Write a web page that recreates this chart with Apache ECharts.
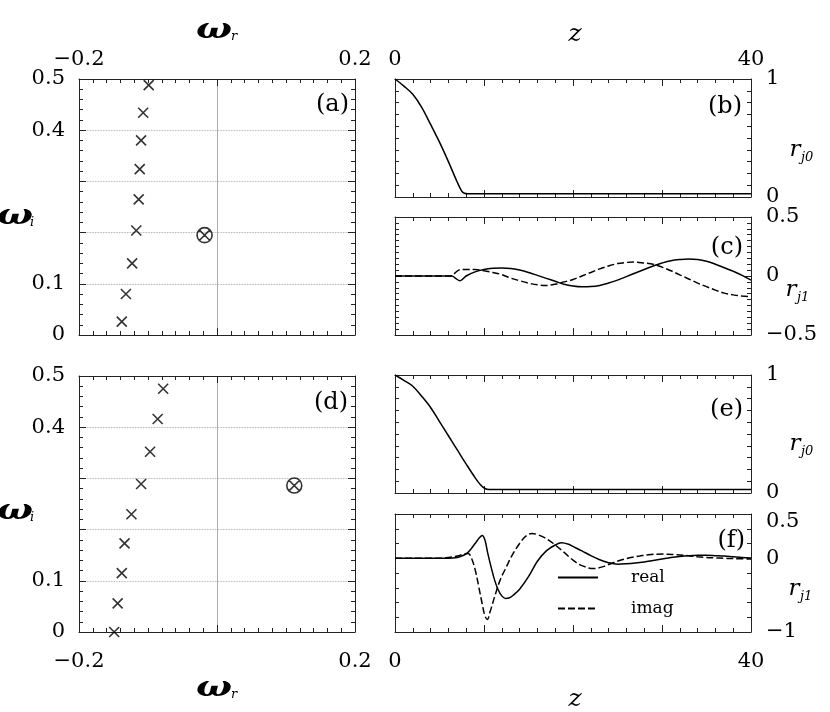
<!DOCTYPE html>
<html><head><meta charset="utf-8">
<script src="https://cdn.jsdelivr.net/npm/echarts@6/dist/echarts.min.js"></script>
<style>html,body{margin:0;padding:0;background:#fff}#c{width:830px;height:712px}</style>
</head><body><div id="c"></div>
<script>
// ---- panel (a): eigenvalues ----
const aRe = [-0.099, -0.107, -0.110, -0.112, -0.1135, -0.117, -0.123, -0.132, -0.138];
const aIm = [0.488, 0.434, 0.380, 0.324, 0.265, 0.204, 0.140, 0.080, 0.026];
const aMarkRe = [-0.018];
const aMarkIm = [0.195];
// ---- panel (d): eigenvalues ----
const dRe = [-0.078, -0.086, -0.097, -0.110, -0.124, -0.134, -0.138, -0.144, -0.149];
const dIm = [0.475, 0.416, 0.352, 0.289, 0.230, 0.173, 0.115, 0.056, 0.0];
const dMarkRe = [0.112];
const dMarkIm = [0.286];
// ---- panel (b): r_j0 ----
const zB = [0, 1, 2, 3, 4, 5, 6, 7, 7.5, 7.8, 8.2, 12, 20, 30, 40];
const rB = [1.0, 0.94, 0.87, 0.76, 0.615, 0.465, 0.30, 0.125, 0.05, 0.032, 0.028, 0.028, 0.028, 0.028, 0.028];
// ---- panel (e): r_j0 ----
const zE = [0, 1, 2, 3, 4, 5, 6, 7, 8, 9, 9.6, 10.1, 10.6, 15, 20, 30, 40];
const rE = [1.0, 0.955, 0.905, 0.82, 0.725, 0.605, 0.485, 0.365, 0.245, 0.13, 0.07, 0.038, 0.03, 0.03, 0.03, 0.03, 0.03];
// ---- panel (c): r_j1 real / imag ----
const zCre = [0, 3, 6.4, 6.8, 7.3, 7.7, 8, 9, 10, 11, 12, 13, 14, 15, 16, 17, 18, 19, 20, 21, 22, 23, 24, 25, 26, 27, 28, 29, 30, 31, 32, 33, 34, 35, 36, 37, 38, 39, 40];
const cRe = [0, 0, 0, -0.02, -0.04, -0.02, 0.0, 0.035, 0.055, 0.065, 0.068, 0.064, 0.05, 0.03, 0.005, -0.02, -0.045, -0.07, -0.085, -0.092, -0.09, -0.08, -0.06, -0.035, -0.005, 0.025, 0.055, 0.085, 0.11, 0.13, 0.14, 0.145, 0.14, 0.125, 0.1, 0.07, 0.04, 0.005, -0.035];
const zCim = [0, 3, 6.4, 6.8, 7.3, 8, 9, 10, 11, 12, 13, 14, 15, 16, 17, 18, 19, 20, 21, 22, 23, 24, 25, 26, 27, 28, 29, 30, 31, 32, 33, 34, 35, 36, 37, 38, 39, 40];
const cIm = [0, 0, 0, 0.03, 0.053, 0.055, 0.055, 0.045, 0.03, 0.012, -0.018, -0.04, -0.06, -0.075, -0.08, -0.07, -0.05, -0.03, 0.0, 0.03, 0.06, 0.085, 0.105, 0.115, 0.118, 0.11, 0.1, 0.075, 0.045, 0.01, -0.025, -0.06, -0.09, -0.12, -0.145, -0.16, -0.17, -0.175];
// ---- panel (f): r_j1 real / imag ----
const zFre = [0, 6, 7, 7.5, 8, 8.5, 9, 9.5, 9.8, 10.1, 10.4, 10.8, 11.2, 11.6, 12, 12.4, 12.8, 13.3, 14, 15, 16, 17, 18, 18.7, 19.5, 20, 21, 22, 23, 24, 25, 26, 27, 28, 29, 30, 31, 32, 33, 34, 35, 36, 37, 38, 39, 40];
const fRe = [0, 0, 0.01, 0.03, 0.06, 0.12, 0.2, 0.28, 0.31, 0.25, 0.08, -0.12, -0.3, -0.43, -0.51, -0.545, -0.54, -0.5, -0.42, -0.25, -0.04, 0.1, 0.18, 0.21, 0.19, 0.16, 0.1, 0.035, -0.02, -0.06, -0.08, -0.075, -0.065, -0.05, -0.03, -0.01, 0.01, 0.025, 0.035, 0.04, 0.04, 0.035, 0.03, 0.02, 0.01, 0.005];
const zFim = [0, 5, 6, 7, 7.8, 8.24, 8.6, 9.0, 9.4, 9.8, 10.1, 10.37, 10.7, 11.2, 11.8, 12.5, 13.2, 14, 14.7, 15.4, 16, 16.8, 17.8, 19, 20, 21, 22.3, 23.5, 24.5, 25.5, 26.5, 27.5, 28.5, 30.1, 31.5, 33, 34, 35, 36, 37, 38, 40];
const fIm = [0, 0, 0.01, 0.03, 0.06, 0.065, 0.0, -0.15, -0.38, -0.62, -0.78, -0.83, -0.72, -0.52, -0.3, -0.12, 0.05, 0.2, 0.3, 0.337, 0.32, 0.28, 0.2, 0.08, -0.026, -0.1, -0.14, -0.11, -0.06, -0.02, 0.01, 0.03, 0.048, 0.056, 0.05, 0.035, 0.02, 0.01, 0.005, 0.0, -0.005, -0.01];
// ---- tick labels ----
const omegaRLabels = [-0.2, 0.2];
const omegaILabels = [0, 0.1, 0.4, 0.5];
const zLabels = [0, 40];
const rj0Labels = [0, 1];
const rj1cLabels = [-0.5, 0, 0.5];
const rj1fLabels = [-1, 0, 0.5];
const legendNames = ['real', 'imag'];

const zip = (xs, ys) => xs.map((x, i) => [x, ys[i]]);
const FONT = 'DejaVu Serif';
const FRAME = '#222';
const fmt = v => { const r = parseFloat((+v).toFixed(6)); return r < 0 ? '\u2212' + Math.abs(r) : String(r); };
const inList = (v, list) => list.some(t => Math.abs(t - v) < 1e-9);

const grids = [
  {left: 79, top: 79, width: 276, height: 256},   // a
  {left: 395, top: 79, width: 356, height: 118},  // b
  {left: 395, top: 217, width: 356, height: 118}, // c
  {left: 79, top: 376, width: 276, height: 256},  // d
  {left: 395, top: 375, width: 356, height: 118}, // e
  {left: 395, top: 514, width: 356, height: 118}  // f
];

function axisBase(extra) {
  return Object.assign({
    type: 'value',
    axisLine: {show: true, onZero: false, lineStyle: {color: FRAME, width: 1}},
    axisTick: {show: true, inside: true, length: 7, lineStyle: {color: FRAME, width: 1}},
    minorTick: {show: true, length: 4, lineStyle: {color: FRAME, width: 1}},
    splitLine: {show: false},
    axisLabel: {show: false}
  }, extra);
}
function labelCfg(list, margin) {
  return {show: true, margin: margin, color: '#000', fontFamily: FONT, fontSize: 21,
    formatter: v => inList(v, list) ? fmt(v) : ''};
}

const xAxis = [], yAxis = [];
// left panels: grid 0 (a), 3 (d)
[[0, 'top'], [3, 'bottom']].forEach(([g, labPos]) => {
  ['bottom', 'top'].forEach(pos => {
    const ax = axisBase({gridIndex: g, position: pos, min: -0.2, max: 0.2, interval: 0.2,
      minorTick: {show: true, splitNumber: 10, length: 4, lineStyle: {color: FRAME, width: 1}}});
    if (pos === labPos) ax.axisLabel = labelCfg(omegaRLabels, pos === 'top' ? 9 : 19);
    if (pos === 'bottom') ax.splitLine = {show: true, lineStyle: {color: '#999', width: 0.8, type: 'solid'}};
    xAxis[g * 2 + (pos === 'bottom' ? 0 : 1)] = ax;
  });
  ['left', 'right'].forEach(pos => {
    const ax = axisBase({gridIndex: g, position: pos, min: 0, max: 0.5, interval: 0.1,
      minorTick: {show: true, splitNumber: 5, length: 4, lineStyle: {color: FRAME, width: 1}}});
    if (pos === 'left') {
      ax.axisLabel = labelCfg(omegaILabels, 14);
      ax.splitLine = {show: true, lineStyle: {color: '#999', width: 0.8, type: 'dotted'}};
    }
    yAxis[g * 2 + (pos === 'left' ? 0 : 1)] = ax;
  });
});
// right panels
const rightCfg = {
  1: {min: 0, max: 1, interval: 1, split: 10, labels: rj0Labels, xlab: 'top'},
  2: {min: -0.5, max: 0.5, interval: 0.5, split: 10, labels: rj1cLabels},
  4: {min: 0, max: 1, interval: 1, split: 10, labels: rj0Labels},
  5: {min: -1, max: 0.6, interval: 0.2, split: 0, labels: rj1fLabels, xlab: 'bottom'}
};
Object.keys(rightCfg).forEach(k => {
  const g = +k, c = rightCfg[k];
  ['bottom', 'top'].forEach(pos => {
    const ax = axisBase({gridIndex: g, position: pos, min: 0, max: 40, interval: 10,
      minorTick: {show: true, splitNumber: 5, length: 4, lineStyle: {color: FRAME, width: 1}}});
    if (c.xlab === pos) ax.axisLabel = labelCfg(zLabels, pos === 'top' ? 9 : 19);
    xAxis[g * 2 + (pos === 'bottom' ? 0 : 1)] = ax;
  });
  ['left', 'right'].forEach(pos => {
    const ax = axisBase({gridIndex: g, position: pos, min: c.min, max: c.max, interval: c.interval});
    if (c.split) {
      ax.minorTick = {show: true, splitNumber: c.split, length: 4, lineStyle: {color: FRAME, width: 1}};
    } else {
      ax.minorTick = {show: false};
      ax.axisTick = {show: true, inside: true, length: 4, lineStyle: {color: FRAME, width: 1}};
    }
    if (pos === 'right') {
      ax.axisLabel = labelCfg(c.labels, 15);
      ax.axisLabel.customValues = c.labels;
    }
    yAxis[g * 2 + (pos === 'left' ? 0 : 1)] = ax;
  });
});

const CROSS = 'path://M0,0L10,10M10,0L0,10';
const OCROSS = 'path://M20,10A10,10,0,1,1,0,10A10,10,0,1,1,20,10ZM2.93,2.93L17.07,17.07M17.07,2.93L2.93,17.07';
function scat(g, xs, ys, sym, size) {
  return {type: 'scatter', xAxisIndex: g * 2, yAxisIndex: g * 2, data: zip(xs, ys),
    symbol: sym, symbolSize: size, clip: false,
    itemStyle: {color: 'rgba(0,0,0,0)', borderColor: '#000', borderWidth: 1.6}};
}
function line(g, name, xs, ys, dashed) {
  return {type: 'line', name: name, xAxisIndex: g * 2, yAxisIndex: g * 2, data: zip(xs, ys),
    symbol: 'none', smooth: 0.35,
    itemStyle: {color: '#000'},
    lineStyle: {color: '#000', width: 1.5, type: dashed ? [7, 3] : 'solid'}};
}
const series = [
  scat(0, aRe, aIm, CROSS, 10), scat(0, aMarkRe, aMarkIm, OCROSS, 15),
  scat(3, dRe, dIm, CROSS, 10), scat(3, dMarkRe, dMarkIm, OCROSS, 15),
  line(1, 'rb', zB, rB, false),
  line(4, 're', zE, rE, false),
  line(2, 'c_real', zCre, cRe, false), line(2, 'c_imag', zCim, cIm, true),
  line(5, legendNames[0], zFre, fRe, false), line(5, legendNames[1], zFim, fIm, true)
];

function txt(x, y, text, size, style, weight, align, scaleX) {
  return {type: 'text', x: x, y: y, scaleX: scaleX || 1, style: {text: text, fill: '#000', fontFamily: FONT,
    fontSize: size, fontStyle: style || 'normal', fontWeight: weight || 'normal',
    textAlign: align || 'center', textVerticalAlign: 'middle'}};
}
const graphic = [
  txt(214, 31, '\u03c9', 27, 'italic', 'bold', 'center', 1.4), txt(231, 37, 'r', 13, 'italic', 'normal', 'left'),
  txt(214, 689, '\u03c9', 27, 'italic', 'bold', 'center', 1.4), txt(231, 695, 'r', 13, 'italic', 'normal', 'left'),
  txt(15, 217, '\u03c9', 27, 'italic', 'bold', 'center', 1.4), txt(30, 223, 'i', 13, 'italic', 'normal', 'left'),
  txt(15, 512, '\u03c9', 27, 'italic', 'bold', 'center', 1.4), txt(30, 518, 'i', 13, 'italic', 'normal', 'left'),
  txt(575, 34, 'z', 25, 'italic'), txt(575, 699, 'z', 25, 'italic'),
  txt(795, 150, 'r', 23, 'italic'), txt(801, 158, 'j0', 13, 'italic', 'normal', 'left'),
  txt(795, 444, 'r', 23, 'italic'), txt(801, 452, 'j0', 13, 'italic', 'normal', 'left'),
  txt(791, 290, 'r', 23, 'italic'), txt(797, 298, 'j1', 13, 'italic', 'normal', 'left'),
  txt(794, 589, 'r', 23, 'italic'), txt(800, 597, 'j1', 13, 'italic', 'normal', 'left'),
  txt(349, 105, '(a)', 24, 'normal', 'normal', 'right'),
  txt(742, 107, '(b)', 24, 'normal', 'normal', 'right'),
  txt(743, 248, '(c)', 24, 'normal', 'normal', 'right'),
  txt(348, 403, '(d)', 24, 'normal', 'normal', 'right'),
  txt(743, 410, '(e)', 24, 'normal', 'normal', 'right'),
  txt(745, 541, '(f)', 24, 'normal', 'normal', 'right')
];

const chart = echarts.init(document.getElementById('c'), null, {renderer: 'canvas'});
chart.setOption({
  animation: false,
  backgroundColor: '#fff',
  grid: grids,
  xAxis: xAxis,
  yAxis: yAxis,
  legend: {data: legendNames, left: 557, top: 569, orient: 'vertical', itemWidth: 40, itemHeight: 14,
    itemGap: 14, padding: 0, selectedMode: false,
    itemStyle: {color: 'rgba(0,0,0,0)', borderWidth: 0, opacity: 0},
    textStyle: {fontFamily: FONT, fontSize: 17, color: '#000', padding: [0, 0, 0, 28]}},
  series: series,
  graphic: graphic
});
</script></body></html>
